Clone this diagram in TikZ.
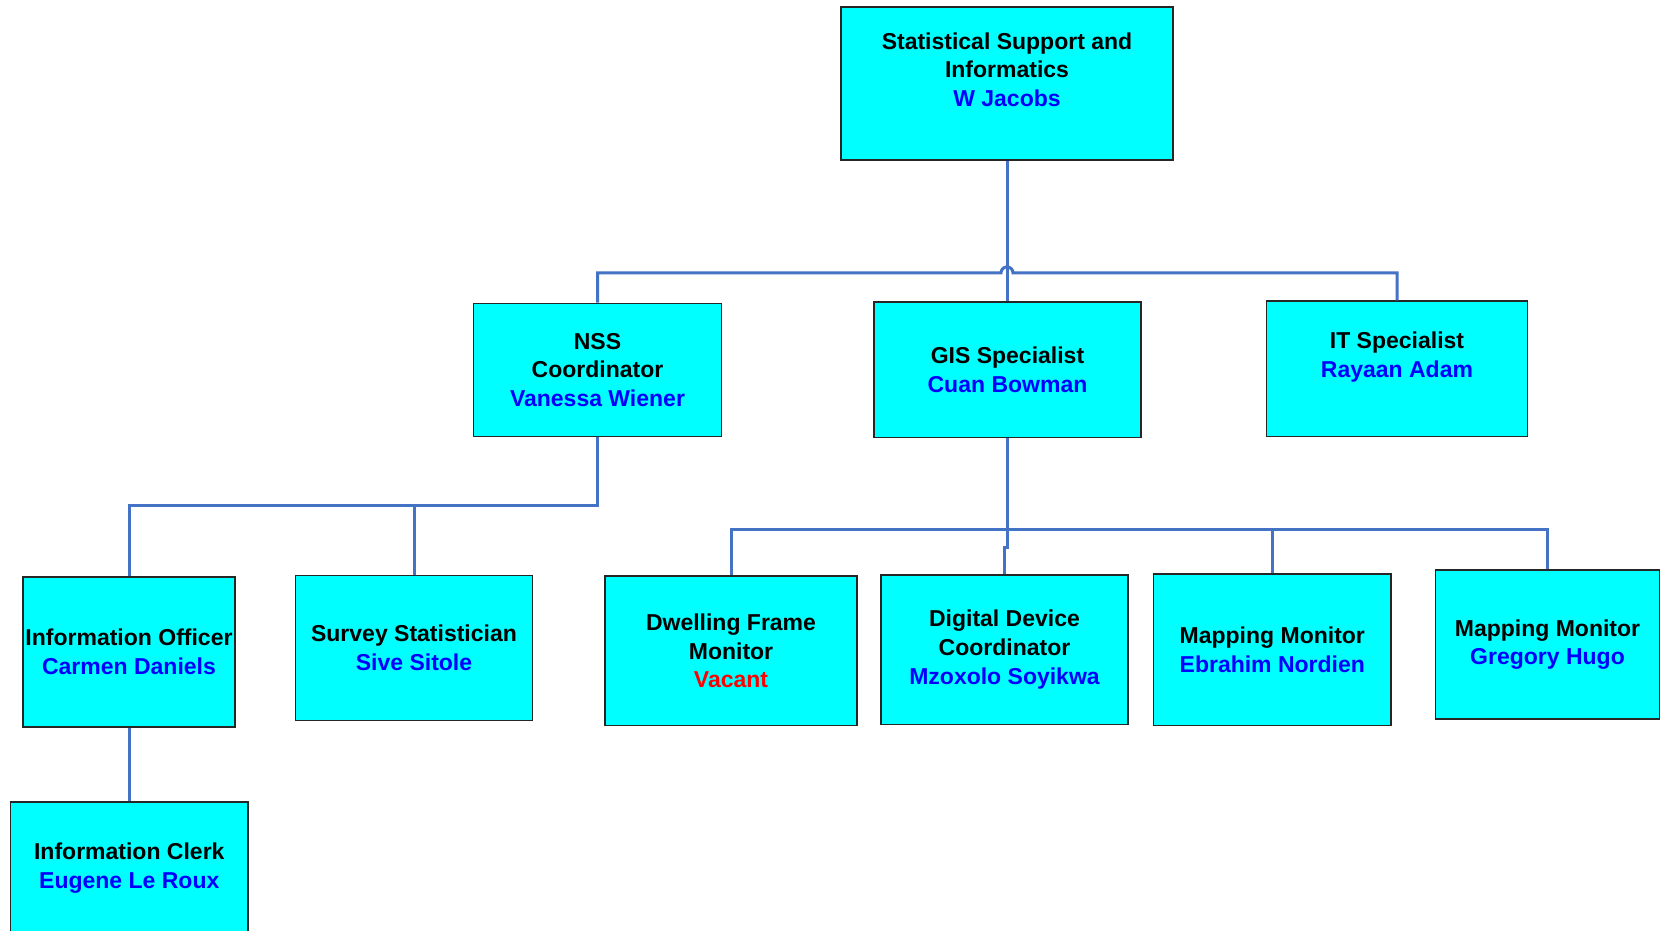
\documentclass[tikz,border=0pt]{standalone}
\usepackage{fontspec}
\setmainfont{Liberation Sans}
\definecolor{orgline}{RGB}{68,114,196}
\definecolor{boxfill}{RGB}{0,255,255}
\def\who#1{\textcolor{blue}{#1}}
\def\wire{\draw[orgline,line width=1.5pt]}
\tikzset{post/.style={draw=black!85,fill=boxfill,line width=0.7pt,inner sep=0pt,align=center,
    font=\fontsize{11.5}{14.3}\selectfont\bfseries}}

\begin{document}
\begin{tikzpicture}[x=0.5pt,y=-0.5pt]
    \useasboundingbox (0,0) rectangle (1661,931);
    \clip (0,0) rectangle (1661,931);
    \fill[white] (0,0) rectangle (1661,931);
    % head of unit
    \node[post,minimum width=166pt,minimum height=76.5pt] (ssi) at (1007,83.7)
        {Statistical Support and\\Informatics\\\who{W Jacobs}\\\mbox{}};
    % second row
    \node[post,minimum width=124pt,minimum height=66.5pt] (nss) at (597.5,369.7)
        {NSS\\ Coordinator\\\who{Vanessa Wiener}};
    \node[post,minimum width=133.5pt,minimum height=67.75pt] (gis) at (1007.5,369.7)
        {GIS Specialist\\\who{Cuan Bowman}};
    \node[post,minimum width=130.25pt,minimum height=67.7pt] (it) at (1397,368.7)
        {IT Specialist\\\who{Rayaan Adam}\\\mbox{}};
    % third row
    \node[post,minimum width=106pt,minimum height=74.85pt] (officer) at (129,652)
        {Information Officer\\\who{Carmen Daniels}};
    \node[post,minimum width=118.5pt,minimum height=72.5pt] (surveystat) at (414,647.7)
        {Survey Statistician\\\who{Sive Sitole}};
    \node[post,minimum width=126pt,minimum height=74.8pt] (dwelling) at (731,650.8)
        {Dwelling Frame\\Monitor\\\textcolor{red}{Vacant}};
    \node[post,minimum width=123.5pt,minimum height=74.8pt] (device) at (1004.5,649.6)
        {Digital Device\\Coordinator\\\who{Mzoxolo Soyikwa}};
    \node[post,minimum width=118.7pt,minimum height=75.8pt] (mapnordien) at (1272.3,649.8)
        {Mapping Monitor\\\who{Ebrahim Nordien}};
    \node[post,minimum width=112pt,minimum height=74.5pt] (maphugo) at (1547.5,644.5)
        {Mapping Monitor\\\who{Gregory Hugo}};
    % fourth row
    \node[post,minimum width=118.7pt,minimum height=66pt] (clerk) at (129.3,868)
        {Information Clerk\\\who{Eugene Le Roux}};

    % connectors
    \path (ssi.south) ++(0,112) coordinate (topbus);
    \wire (ssi.south) -- (ssi.south |- gis.north);
    \wire (nss.north) |- ([xshift=-3pt]topbus) arc[start angle=180,end angle=0,radius=3pt] -| (it.north);

    \path (nss.south) ++(0,69) coordinate (nssbus);
    \wire (nss.south) -- (nssbus) -| (officer.north);
    \wire (surveystat.north) -- (surveystat.north |- nssbus);

    \path (gis.south) ++(0,91) coordinate (gisbus);
    \wire (gis.south) -- (gisbus);
    \wire (dwelling.north) |- (maphugo.north |- gisbus) -- (maphugo.north);
    \wire (mapnordien.north) -- (mapnordien.north |- gisbus);
    \wire (gisbus) -- ++(0,18) -| (device.north);

    \wire (officer.south) -- (officer.south |- clerk.north);
\end{tikzpicture}
\end{document}
